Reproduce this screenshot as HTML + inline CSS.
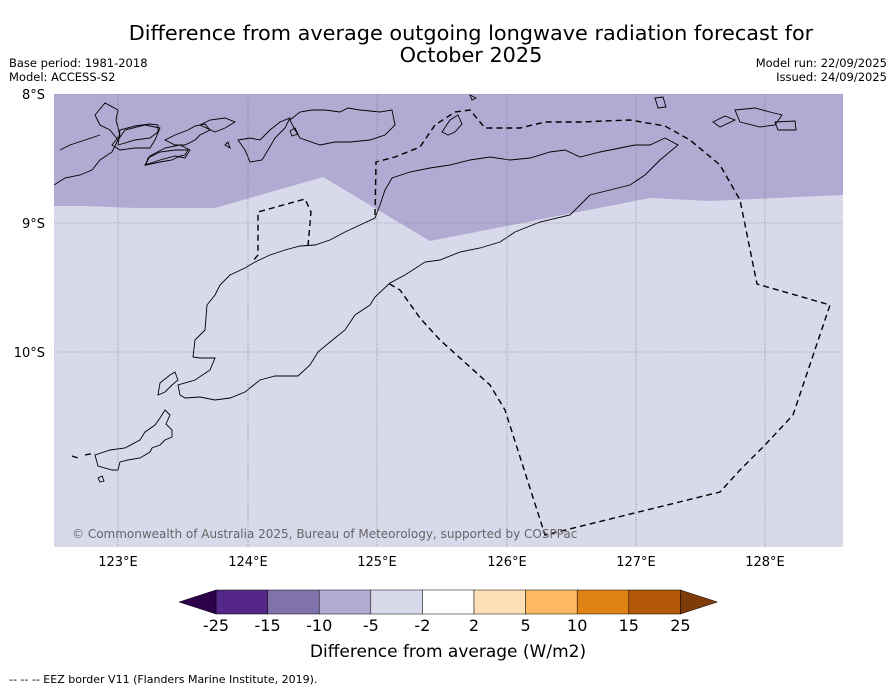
<!DOCTYPE html>
<html><head><meta charset="utf-8"><style>
body{margin:0;background:#fff;font-family:"DejaVu Sans","Liberation Sans",sans-serif;}
svg text{font-family:"DejaVu Sans","Liberation Sans",sans-serif;}
</style></head><body>
<svg width="896" height="690" viewBox="0 0 896 690">
<text x="471" y="40" font-size="20.8" text-anchor="middle">Difference from average outgoing longwave radiation forecast for</text>
<text x="471" y="62" font-size="20.8" text-anchor="middle">October 2025</text>
<text x="9" y="67" font-size="11.5">Base period: 1981-2018</text>
<text x="9" y="81" font-size="11.5">Model: ACCESS-S2</text>
<text x="887" y="67" font-size="11.5" text-anchor="end">Model run: 22/09/2025</text>
<text x="887" y="81" font-size="11.5" text-anchor="end">Issued: 24/09/2025</text>
<defs><clipPath id="mc"><rect x="54" y="94" width="789" height="453"/></clipPath></defs>
<g clip-path="url(#mc)">
<rect x="54" y="94" width="789" height="453" fill="#d8d9eb"/>
<polygon points="54,94 843,94 843,195 710,201 650,198 430,241 323,177 215,208 135,208 85,206 54,206" fill="#b1aad2"/>
<g fill="none" stroke="#000" stroke-width="0.9">
<path d="M193,357 L195,340 205,330 207,305 215,295 220,285 230,275 245,268 255,262 270,255 285,250 300,246 315,245 330,240 345,232 360,225 375,218 380,205 385,190 392,178 410,172 430,168 450,165 470,160 490,157 510,160 530,158 550,152 565,150 580,157 600,152 620,148 635,145 650,145 665,138 678,145 660,160 645,175 630,185 590,195 570,215 540,222 515,232 500,242 480,248 460,252 440,260 425,262 405,275 390,283 375,297 370,305 355,315 345,330 330,342 318,352 310,365 298,376 275,376 260,380 245,392 230,398 215,400 200,397 185,398 180,395 178,385 195,380 210,370 215,358 200,358 Z"/>
<path d="M165,410 L170,415 166,424 172,430 172,437 165,440 160,445 152,448 150,452 140,458 128,460 120,462 118,470 112,470 98,466 95,455 110,450 125,448 140,440 145,432 155,425 160,418 Z"/>
<path d="M160,383 L170,375 175,372 178,380 172,385 165,392 158,395 Z"/>
<path d="M98,478 L102,476 104,481 100,482 Z"/>
<path d="M54,185 L65,178 80,175 92,170 100,160 112,152 118,140 110,130 100,125 95,115 105,103 118,110 116,120 120,135 112,145 120,150 135,148 150,148 155,140 160,128 145,125 125,130 118,140 M60,150 L70,145 85,140 100,135 M145,165 L160,160 175,156 185,158 190,150 180,145 165,148 150,156 Z"/>
<path d="M118,145 L135,140 150,138 158,132 158,125 150,124 135,126 120,130 Z"/>
<path d="M146,165 L160,162 172,160 180,156 185,155 188,150 175,150 160,152 148,158 Z"/>
<path d="M165,140 L175,135 188,130 195,126 205,124 210,130 200,135 195,140 185,145 175,145 Z"/>
<path d="M200,125 L210,120 225,118 235,122 225,128 215,132 Z"/>
<path d="M238,140 L250,138 260,140 270,130 280,122 290,118 285,128 275,138 268,150 262,160 250,162 245,150 Z"/>
<path d="M290,120 L300,112 312,110 325,110 340,112 348,108 360,110 380,112 392,110 395,125 385,135 370,140 350,142 335,142 320,145 300,138 295,130 Z"/>
<path d="M225,145 L228,142 230,148 Z M290,131 L295,128 298,134 292,136 Z"/>
<path d="M442,132 L450,120 458,115 462,124 455,132 448,135 Z M470,95 L472,100 476,98 Z"/>
<path d="M655,98 L663,97 666,107 658,108 Z M713,122 L725,116 735,120 720,127 Z M735,110 L755,108 770,112 782,115 775,125 760,127 740,122 Z M775,122 L795,121 796,130 778,130 Z"/>
</g>
<g fill="none" stroke="#000" stroke-width="1.4" stroke-dasharray="6,4">
<path d="M308,246 L311,212 305,199 258,212 258,255 252,262"/>
<path d="M375,215 L376,162 395,157 420,147 435,125 455,112 470,110 485,128 520,128 545,122 580,122 630,120 665,126 690,140 720,165 740,200 757,284 830,305 793,415 765,445 740,470 720,492 545,535 505,410 490,385 440,340 420,318 400,290 388,283"/>
<path d="M72,456 L78,458 M85,455 L95,453"/>
</g>
<g stroke="#666" stroke-width="0.6" stroke-dasharray="1,1.5">
<line x1="118" y1="94" x2="118" y2="547"/><line x1="248" y1="94" x2="248" y2="547"/><line x1="377" y1="94" x2="377" y2="547"/><line x1="507" y1="94" x2="507" y2="547"/><line x1="636" y1="94" x2="636" y2="547"/><line x1="765" y1="94" x2="765" y2="547"/>
<line x1="54" y1="94" x2="843" y2="94"/><line x1="54" y1="223" x2="843" y2="223"/><line x1="54" y1="352" x2="843" y2="352"/>
</g>
<text x="72" y="538" font-size="12" fill="#666">© Commonwealth of Australia 2025, Bureau of Meteorology, supported by COSPPac</text>
</g>
<g font-size="13">
<text x="45" y="99" text-anchor="end">8°S</text><text x="45" y="228" text-anchor="end">9°S</text><text x="45" y="357" text-anchor="end">10°S</text>
</g>
<g font-size="13" text-anchor="middle">
<text x="118" y="566">123°E</text><text x="248" y="566">124°E</text><text x="377" y="566">125°E</text><text x="507" y="566">126°E</text><text x="636" y="566">127°E</text><text x="765" y="566">128°E</text>
</g>
<g id="cbar"></g>
<text x="448" y="657" font-size="17" text-anchor="middle">Difference from average (W/m2)</text>
<text x="9" y="683" font-size="11">--  --  -- EEZ border V11 (Flanders Marine Institute, 2019).</text>
</svg>
<script>
const levels=["-25","-15","-10","-5","-2","2","5","10","15","25"];
const colors=["#542788","#8073ac","#b2abd2","#d8daeb","#ffffff","#fee0b6","#fdb863","#e08214","#b35806"];
const underColor="#2d004b", overColor="#7f3b08";
const ns="http://www.w3.org/2000/svg";
const g=document.getElementById("cbar");
const x0=216,w=51.6,y0=590,h=24;
function mk(t,a){const e=document.createElementNS(ns,t);for(const k in a)e.setAttribute(k,a[k]);g.appendChild(e);return e;}
colors.forEach((c,i)=>{const r=mk("rect",{x:x0+i*w,y:y0,width:w,height:h,fill:c,stroke:"#000","stroke-width":0.5});

});
const xe=x0+colors.length*w;
const t1=mk("polygon",{points:`${x0},${y0} 179,${y0+h/2} ${x0},${y0+h}`,fill:underColor,stroke:"#000","stroke-width":0.5});


const t2=mk("polygon",{points:`${xe},${y0} ${xe+37},${y0+h/2} ${xe},${y0+h}`,fill:overColor,stroke:"#000","stroke-width":0.5});


levels.forEach((l,i)=>{const t=mk("text",{x:x0+i*w,y:631,"font-size":16,"text-anchor":"middle"});t.textContent=l;

});
</script>
</body></html>
